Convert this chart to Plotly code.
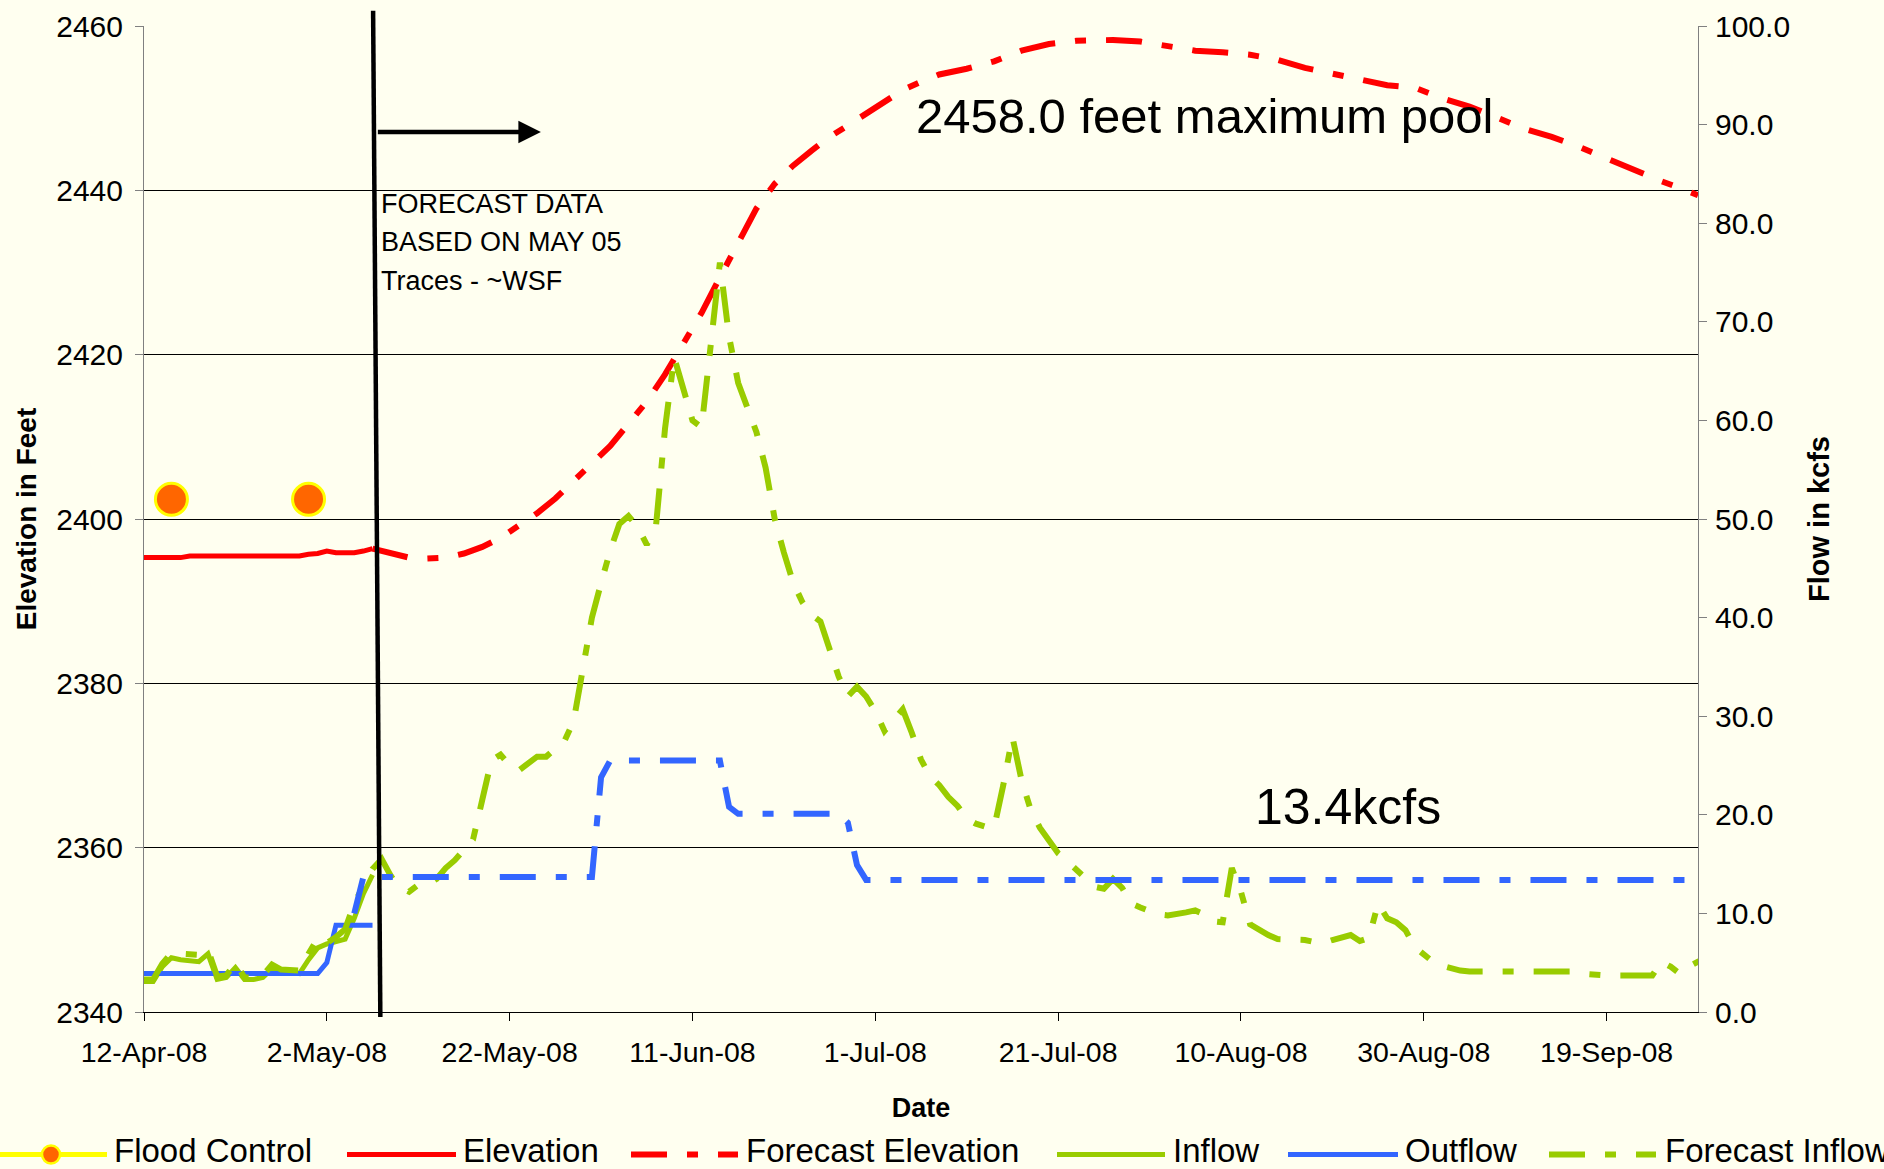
import plotly.graph_objects as go
import pandas as pd

# ---------------- data ----------------
START = "2008-04-12"

# actual (observed) daily series, Apr 12 .. May 7
elevation_actual = [2395.3, 2395.3, 2395.3, 2395.3, 2395.3, 2395.5, 2395.5, 2395.5, 2395.5,
                    2395.5, 2395.5, 2395.5, 2395.5, 2395.5, 2395.5, 2395.5, 2395.5, 2395.5,
                    2395.7, 2395.8, 2396.1, 2395.9, 2395.9, 2395.9, 2396.1, 2396.4]
inflow_actual = [3.1, 3.1, 4.6, 5.5, 5.3, 5.2, 5.1, 5.9, 3.3, 3.5, 4.5, 3.3, 3.3, 3.5, 4.4,
                 4.1, 4.0, 3.9, 5.3, 6.5, 6.9, 7.1, 7.4, 9.5, 12.0, 13.9]
outflow_actual = [3.9] * 20 + [5.0, 8.8, 8.8, 8.8, 8.8, 8.8]

# forecast elevation
fc_elev_dates = ["2008-05-07", "2008-05-09", "2008-05-11", "2008-05-13", "2008-05-15",
                 "2008-05-17", "2008-05-19", "2008-05-21", "2008-05-23", "2008-05-25",
                 "2008-05-27", "2008-05-29", "2008-05-31", "2008-06-02", "2008-06-04",
                 "2008-06-06", "2008-06-08", "2008-06-10", "2008-06-12", "2008-06-14",
                 "2008-06-16", "2008-06-18", "2008-06-20", "2008-06-22", "2008-06-24",
                 "2008-06-26", "2008-06-28", "2008-06-30", "2008-07-02", "2008-07-04",
                 "2008-07-06", "2008-07-08", "2008-07-11", "2008-07-14", "2008-07-17",
                 "2008-07-20", "2008-07-23", "2008-07-27", "2008-07-30", "2008-08-02",
                 "2008-08-05", "2008-08-08", "2008-08-11", "2008-08-14", "2008-08-17",
                 "2008-08-20", "2008-08-23", "2008-08-26", "2008-08-29", "2008-09-01",
                 "2008-09-04", "2008-09-07", "2008-09-10", "2008-09-13", "2008-09-16",
                 "2008-09-19", "2008-09-22", "2008-09-25", "2008-09-27", "2008-09-29"]
fc_elevation = [2396.4, 2395.8, 2395.3, 2395.2, 2395.3, 2395.8, 2396.6, 2397.7, 2399.1, 2400.7,
                2402.5, 2404.6, 2406.6, 2408.9, 2411.6, 2414.3, 2417.6, 2421.4, 2425.1, 2429.4,
                2433.7, 2437.8, 2440.8, 2443.0, 2444.8, 2446.5, 2447.9, 2449.4, 2450.9, 2452.2,
                2453.2, 2454.1, 2454.8, 2455.7, 2457.0, 2457.8, 2458.2, 2458.3, 2458.1, 2457.6,
                2457.0, 2456.8, 2456.5, 2455.9, 2454.9, 2454.2, 2453.5, 2452.8, 2452.5, 2451.2,
                2450.2, 2448.9, 2447.5, 2446.5, 2445.3, 2443.9, 2442.4, 2441.1, 2440.3, 2439.4]

# forecast outflow
fc_out_dates = ["2008-05-05", "2008-05-06", "2008-05-31", "2008-06-01", "2008-06-02",
                "2008-06-14", "2008-06-15", "2008-06-16", "2008-06-27", "2008-06-28",
                "2008-06-29", "2008-06-30", "2008-09-29"]
fc_outflow = [10.0, 13.7, 13.7, 23.8, 25.5, 25.5, 20.8, 20.1, 20.1, 19.2, 14.9, 13.4, 13.4]

# forecast inflow, daily from Apr 12 .. Sep 29
fc_inflow = [3.3, 3.3, 4.9, 6.0, 5.9, 5.8, 5.8, 6.3, 3.6, 3.7, 5.0, 3.5, 3.5, 3.7, 4.8, 4.3,
             4.2, 4.2, 5.9, 7.5, 7.0, 7.6, 8.4, 11.0, 12.8, 14.5,
             15.5, 13.8, 12.6, 12.2, 12.9, 12.9, 13.5, 14.6, 15.4, 16.4, 17.5, 21.5, 25.5, 26.1,
             25.0, 24.5, 25.2, 25.9, 25.9, 26.8, 27.5, 29.5, 35.0, 40.0, 43.5, 46.8, 49.5, 50.3,
             49.2, 47.4, 49.2, 59.2, 66.4, 63.0, 60.0, 59.3, 68.0, 76.0, 68.5, 63.8, 61.3, 58.8,
             55.2, 50.0, 46.6, 43.6, 41.6, 40.3, 39.6, 37.0, 34.0, 32.0, 33.0, 32.0, 30.5, 28.5,
             29.6, 30.7, 28.3, 25.6, 23.9, 23.0, 21.8, 20.9, 19.6, 19.1, 18.8, 18.7, 23.0, 27.9,
             23.5, 20.5, 18.7, 17.4, 16.1, 15.3, 14.4, 13.6, 12.7, 12.5, 13.5, 12.6, 11.0, 10.6,
             10.2, 9.9, 9.8, 9.9, 10.1, 10.3, 9.9, 9.2, 9.1, 14.6, 12.2, 8.9, 8.3, 7.8, 7.4, 7.4,
             7.4, 7.3, 7.1, 7.0, 7.3, 7.6, 7.8, 7.2, 7.5, 11.0, 9.5, 9.1, 8.3, 6.6, 5.8, 5.1,
             4.7, 4.4, 4.2, 4.1, 4.1, 4.1, 4.1, 4.1, 4.1, 4.1, 4.1, 4.1, 4.1, 4.1, 4.1, 3.9,
             3.8, 3.7, 3.7, 3.7, 3.7, 3.7, 3.7, 3.7, 5.1, 4.6, 3.9, 4.6, 5.1, 4.9]

flood_dates = ["2008-04-15", "2008-04-30"]
flood_control = [2402.4, 2402.4]

legend_names = ["Flood Control", "Elevation", "Forecast Elevation", "Inflow", "Outflow",
                "Forecast Inflow"]

# ---------------- styles ----------------
RED = "#FF0000"
GREEN = "#99CC00"
BLUE = "#3366FF"
ORANGE = "#FF6600"
YELLOW = "#FFFF00"
BG = "#FFFFF0"
FONT = "Liberation Sans"
DASH = "36px,20px,11px,20px"

actual_dates = pd.date_range(START, periods=len(elevation_actual))
fc_in_dates = pd.date_range(START, periods=len(fc_inflow))

fig = go.Figure()
fig.add_trace(go.Scatter(x=flood_dates, y=flood_control, mode="markers", name=legend_names[0],
                         marker=dict(size=32, color=ORANGE, line=dict(color=YELLOW, width=3))))
fig.add_trace(go.Scatter(x=actual_dates, y=elevation_actual, mode="lines", name=legend_names[1],
                         line=dict(color=RED, width=5)))
fig.add_trace(go.Scatter(x=fc_elev_dates, y=fc_elevation, mode="lines", name=legend_names[2],
                         line=dict(color=RED, width=6, dash=DASH)))
fig.add_trace(go.Scatter(x=actual_dates, y=inflow_actual, mode="lines", name=legend_names[3],
                         yaxis="y2", line=dict(color=GREEN, width=5)))
fig.add_trace(go.Scatter(x=actual_dates, y=outflow_actual, mode="lines", name=legend_names[4],
                         yaxis="y2", line=dict(color=BLUE, width=5)))
fig.add_trace(go.Scatter(x=fc_in_dates, y=fc_inflow, mode="lines", name=legend_names[5],
                         yaxis="y2", line=dict(color=GREEN, width=6, dash=DASH)))
fig.add_trace(go.Scatter(x=fc_out_dates, y=fc_outflow, mode="lines", name="Forecast Outflow",
                         yaxis="y2", line=dict(color=BLUE, width=6, dash=DASH)))

# ---------------- layout ----------------
L, R, T, B = 144, 186, 26, 157
W, H = 1884, 1169
PW, PH = W - L - R, H - T - B


def px_x(X):
    return (X - L) / PW


def px_y(Y):
    return (H - B - Y) / PH


shapes = []
annotations = []

# forecast divider line (slightly slanted as in original)
shapes.append(dict(type="line", xref="x", yref="paper", x0="2008-05-07 20:30", y0=-0.005,
                   x1="2008-05-07 01:30", y1=1.0155, line=dict(color="black", width=4.5)))

annotations.append(dict(x="2008-05-25 10:00", y=2447.1, ax="2008-05-07 10:00", ay=2447.1,
                        xref="x", yref="y", axref="x", ayref="y", showarrow=True,
                        arrowhead=2, arrowsize=1.0, arrowwidth=4.5, arrowcolor="black",
                        text=""))
for txt, yv in [("FORECAST DATA", 2438.3), ("BASED ON MAY 05", 2433.7),
                ("Traces - ~WSF", 2429.0)]:
    annotations.append(dict(x="2008-05-07 18:00", y=yv, xref="x", yref="y", text=txt,
                            showarrow=False, xanchor="left", yanchor="middle",
                            font=dict(size=27, color="black", family=FONT)))
annotations.append(dict(x="2008-07-05 06:00", y=2449.0, xref="x", yref="y",
                        text="2458.0 feet maximum pool", showarrow=False, xanchor="left",
                        yanchor="middle", font=dict(size=49, color="black", family=FONT)))
annotations.append(dict(x="2008-08-11 08:00", y=2364.9, xref="x", yref="y", text="13.4kcfs",
                        showarrow=False, xanchor="left", yanchor="middle",
                        font=dict(size=50, color="black", family=FONT)))

# manual legend (original legend runs past both edges of the image)
LY = px_y(1154.5)
TY = px_y(1171)
legend_items = [
    (0, 107, YELLOW, None, 112),
    (347, 456, RED, None, 461),
    (631, 738, RED, DASH, 744),
    (1057, 1165, GREEN, None, 1171),
    (1288, 1398, BLUE, None, 1403),
    (1549, 1656, GREEN, DASH, 1663),
]
for (x0, x1, col, dash, tx), name in zip(legend_items, legend_names):
    ln = dict(color=col, width=5)
    if dash:
        ln["dash"] = dash
        ln["width"] = 6
    shapes.append(dict(type="line", xref="paper", yref="paper", x0=px_x(x0), x1=px_x(x1),
                       y0=LY, y1=LY, line=ln))
    annotations.append(dict(x=px_x(tx), y=TY, xref="paper", yref="paper", text=name,
                            showarrow=False, xanchor="left", yanchor="bottom",
                            font=dict(size=33, color="black", family=FONT)))
shapes.append(dict(type="circle", xref="paper", yref="paper", xsizemode="pixel",
                   ysizemode="pixel", xanchor=px_x(51), yanchor=LY, x0=-9, x1=9, y0=-9, y1=9,
                   fillcolor=ORANGE, line=dict(color=YELLOW, width=2.5)))

fig.update_layout(
    width=W, height=H,
    margin=dict(l=L, r=R, t=T, b=B, pad=0, autoexpand=False),
    paper_bgcolor=BG, plot_bgcolor=BG,
    font=dict(family=FONT, color="black"),
    showlegend=False,
    shapes=shapes,
    annotations=annotations,
    xaxis=dict(type="date", range=["2008-04-12", "2008-09-29"], tick0="2008-04-12",
               dtick=20 * 86400000, tickformat="%-d-%b-%y", ticks="outside", ticklen=8,
               tickcolor="black", showline=True, linecolor="black", linewidth=1,
               showgrid=False, zeroline=False, tickfont=dict(size=28.5),
               ticklabelstandoff=7, automargin=False,
               title=dict(text="<b>Date</b>", font=dict(size=27), standoff=30)),
    yaxis=dict(range=[2340, 2460], dtick=20, ticks="outside", ticklen=8, tickcolor="#808080",
               showline=True, linecolor="#808080", linewidth=1, showgrid=True,
               gridcolor="black", gridwidth=1, zeroline=False, tickfont=dict(size=30),
               ticklabelstandoff=6, automargin=False,
               title=dict(text="<b>Elevation in Feet</b>", font=dict(size=28), standoff=11)),
    yaxis2=dict(range=[0, 100], dtick=10, tickformat=".1f", overlaying="y", side="right",
                ticks="outside", ticklen=8, tickcolor="#808080", showline=True,
                linecolor="#808080", linewidth=1, showgrid=False, zeroline=False,
                tickfont=dict(size=30), ticklabelstandoff=2, automargin=False,
                title=dict(text="<b>Flow in kcfs</b>", font=dict(size=29), standoff=19)),
    # inner half of the crossing ticks on the flow axis
    yaxis3=dict(range=[0, 100], dtick=10, overlaying="y", side="right", ticks="inside",
                ticklen=8, tickcolor="#808080", showticklabels=False, showline=False,
                showgrid=False, zeroline=False, automargin=False),
)

fig.write_html("out.html", post_script="document.body.style.margin='0';",
               config={"displayModeBar": False})
